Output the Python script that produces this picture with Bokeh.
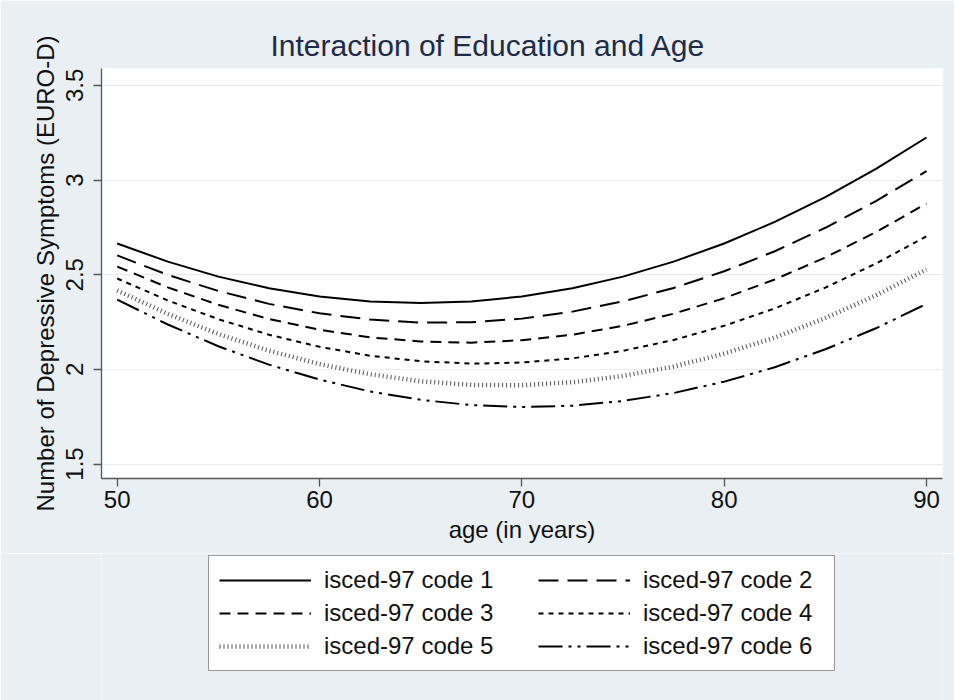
from bokeh.plotting import figure
from bokeh.layouts import column
from bokeh.models import Legend, LegendItem, Range1d, FixedTicker
from bokeh.embed import file_html
from bokeh.resources import INLINE

# Predicted EURO-D score by age for each ISCED-97 education level
age = [50, 52.5, 55, 57.5, 60, 62.5, 65, 67.5, 70, 72.5, 75, 77.5, 80, 82.5, 85, 87.5, 90]
code1 = [2.665, 2.569, 2.490, 2.429, 2.385, 2.359, 2.350, 2.359, 2.385, 2.429, 2.490, 2.569, 2.665, 2.779, 2.910, 3.059, 3.225]
code2 = [2.602, 2.499, 2.414, 2.346, 2.296, 2.263, 2.247, 2.249, 2.268, 2.305, 2.359, 2.430, 2.518, 2.624, 2.748, 2.889, 3.047]
code3 = [2.543, 2.433, 2.341, 2.266, 2.209, 2.169, 2.147, 2.141, 2.154, 2.183, 2.230, 2.294, 2.376, 2.475, 2.591, 2.725, 2.876]
code4 = [2.480, 2.364, 2.265, 2.183, 2.119, 2.072, 2.043, 2.030, 2.036, 2.058, 2.098, 2.155, 2.230, 2.322, 2.432, 2.559, 2.703]
code5 = [2.417, 2.293, 2.187, 2.099, 2.028, 1.974, 1.937, 1.918, 1.916, 1.932, 1.965, 2.015, 2.083, 2.168, 2.271, 2.391, 2.528]
code6 = [2.368, 2.237, 2.122, 2.025, 1.946, 1.883, 1.839, 1.811, 1.801, 1.808, 1.833, 1.875, 1.935, 2.011, 2.106, 2.217, 2.346]

labels = ["isced-97 code 1", "isced-97 code 2", "isced-97 code 3",
          "isced-97 code 4", "isced-97 code 5", "isced-97 code 6"]
x_ticks = [50, 60, 70, 80, 90]
y_ticks = [1.5, 2, 2.5, 3, 3.5]

FONT = "Liberation Sans"
BG = "#e9eff2"

p = figure(width=954, height=553, output_backend="svg", toolbar_location=None,
           x_range=Range1d(49.224, 90.79), y_range=Range1d(1.4234, 3.5894),
           min_border_left=101, min_border_right=12, min_border_top=68,
           min_border_bottom=75, background_fill_color="white",
           border_fill_color=BG, outline_line_color=None)

p.title.text = "Interaction of Education and Age"
p.title.text_font = FONT
p.title.text_font_size = "30px"
p.title.text_font_style = "normal"
p.title.text_color = "#1f2b45"
p.title.align = "left"
p.title.offset = 169
p.title.standoff = 13

p.xaxis.axis_label = "age (in years)"
p.yaxis.axis_label = "Number of Depressive Symptoms (EURO-D)"
p.xaxis.ticker = FixedTicker(ticks=x_ticks)
p.yaxis.ticker = FixedTicker(ticks=y_ticks)
p.yaxis.major_label_orientation = "vertical"
for ax in (p.xaxis, p.yaxis):
    ax.axis_line_color = "#555555"
    ax.axis_line_width = 1.3
    ax.major_tick_line_color = "#555555"
    ax.major_tick_line_width = 1.3
    ax.major_tick_out = 8
    ax.major_tick_in = 0
    ax.minor_tick_line_color = None
    ax.major_label_text_font = FONT
    ax.major_label_text_font_size = "24px"
    ax.major_label_text_color = "#111111"
    ax.axis_label_text_font = FONT
    ax.axis_label_text_font_size = "24px"
    ax.axis_label_text_font_style = "normal"
    ax.axis_label_text_color = "#111111"
p.xaxis.major_label_standoff = 4
p.yaxis.major_label_standoff = 10
p.xaxis.axis_label_standoff = 5
p.yaxis.axis_label_standoff = 5

p.xgrid.grid_line_color = None
p.ygrid.grid_line_color = "#e6ecef"
p.ygrid.grid_line_width = 1.2

styles = [
    dict(line_dash="solid", line_color="black", line_width=2),
    dict(line_dash="20 9", line_color="black", line_width=2),
    dict(line_dash="11 7", line_color="black", line_width=2),
    dict(line_dash="5 5", line_color="black", line_width=2),
    dict(line_dash="1 3", line_color="#555555", line_width=4.5),
    dict(line_dash="24 6 3 6 3 6", line_color="black", line_width=2),
]
series = [code1, code2, code3, code4, code5, code6]

for ys, st in zip(series, styles):
    p.line(age, ys, **st)

# Key panel below the chart; its own ranges keep the series out of view,
# so only the legend samples of each line style show up
key = figure(width=954, height=147, output_backend="svg", toolbar_location=None,
             x_range=Range1d(0, 1), y_range=Range1d(0, 1),
             x_axis_type=None, y_axis_type=None, min_border=0,
             background_fill_color=BG, border_fill_color=BG, outline_line_color=None)
samples = [key.line(age, ys, **st) for ys, st in zip(series, styles)]

common = dict(orientation="vertical", label_text_font=FONT, label_text_font_size="24px",
              label_text_color="#111111", glyph_width=92, glyph_height=24,
              label_height=24, label_standoff=13, spacing=5, padding=10, margin=0)

# left column carries the frame and the white box of the whole key
key_left = Legend(items=[LegendItem(label=labels[i], renderers=[samples[i]]) for i in (0, 2, 4)],
                  location=(107, 29), label_width=500,
                  border_line_color="#333333", border_line_width=1.2,
                  background_fill_color="white", background_fill_alpha=1.0, **common)
# right column sits on top of the same box, without a frame of its own
key_right = Legend(items=[LegendItem(label=labels[i], renderers=[samples[i]]) for i in (1, 3, 5)],
                   location=(437, 40), label_width=167, border_line_color=None,
                   background_fill_alpha=0.0, **common)
key.add_layout(key_left)
key.add_layout(key_right)

open("out.html", "w").write(file_html(column(p, key, spacing=0), INLINE))
